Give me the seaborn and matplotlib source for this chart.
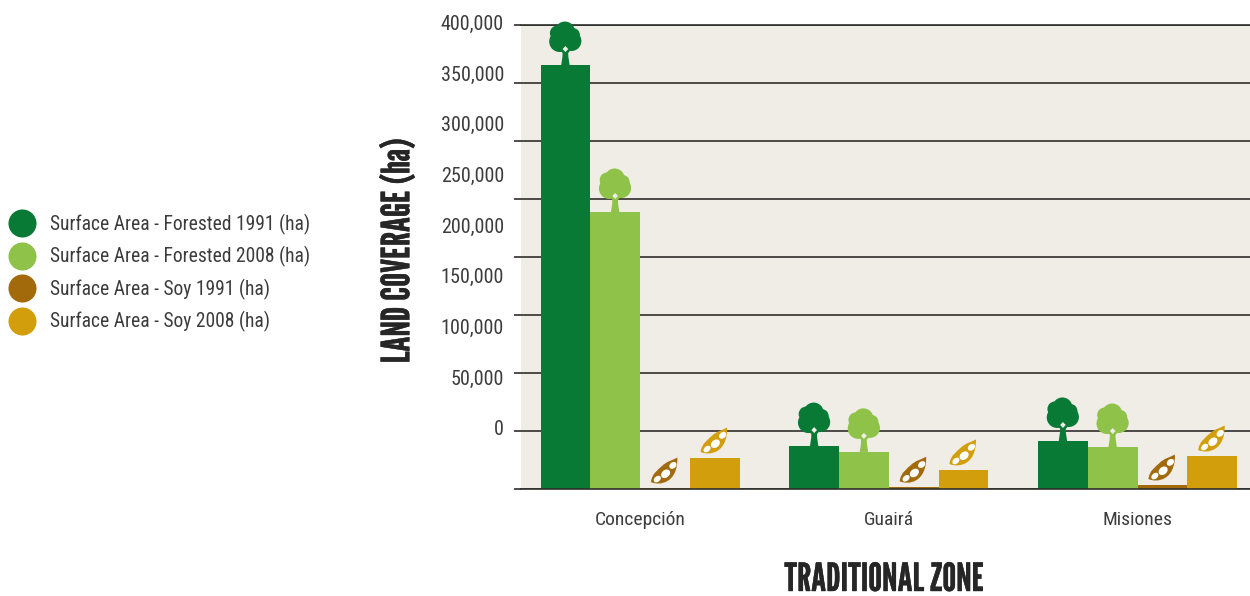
import matplotlib
matplotlib.use("Agg")
import matplotlib.pyplot as plt
import matplotlib.patheffects as pe
import matplotlib.transforms as mtrans
from matplotlib.lines import Line2D
from matplotlib.patches import Circle, Ellipse, PathPatch, Polygon
from matplotlib.path import Path
import pandas as pd
import seaborn as sns

sns.set_style("white")
plt.rcParams['font.family'] = ['Roboto Condensed', 'Roboto', 'DejaVu Sans']
title_font = ['League Gothic', 'Antonio', 'Oswald', 'Roboto Condensed', 'DejaVu Sans']

zones = ["Concepción", "Guairá", "Misiones"]
series_names = ["Surface Area - Forested 1991 (ha)", "Surface Area - Forested 2008 (ha)",
                "Surface Area - Soy 1991 (ha)", "Surface Area - Soy 2008 (ha)"]
colors = ["#087a36", "#8fc248", "#a26a0a", "#d39e0b"]
forest_1991 = [365500, 37000, 41400]
forest_2008 = [238800, 32000, 36200]
soy_1991 = [800, 1500, 3400]
soy_2008 = [26700, 16400, 28400]
y_labels = [0, 50000, 100000, 150000, 200000, 250000, 300000, 350000, 400000]

GRID = "#2f2f2c"
TEXT = "#3c3c3c"
PANEL = "#f0ede6"

df = pd.DataFrame({"zone": zones * 4,
                   "series": [s for s in series_names for _ in zones],
                   "area": forest_1991 + forest_2008 + soy_1991 + soy_2008})

fig = plt.figure(figsize=(12.5, 5.96), dpi=100)
ax = fig.add_axes([521 / 1250, 1 - 489 / 596, 729 / 1250, 464 / 596])
ax.set_facecolor(PANEL)

sns.barplot(data=df, x="zone", y="area", hue="series", hue_order=series_names,
            palette=colors, saturation=1, width=0.8, gap=0, legend=False,
            linewidth=0, ax=ax)

ax.set_xlim(-0.4785, 2.452)
ax.set_ylim(0, 400000)
ax.set_yticks(y_labels)
ax.set_axisbelow(True)
ax.grid(axis="y", color=GRID, linewidth=1.2)
ax.tick_params(axis="y", left=True, length=5, width=1.2, color=GRID, labelleft=False)
ax.tick_params(axis="x", length=0, pad=16, labelsize=14, labelcolor=TEXT)
for side in ["left", "right"]:
    ax.spines[side].set_visible(False)
for side in ["top", "bottom"]:
    ax.spines[side].set_visible(True)
    ax.spines[side].set_color(GRID)
    ax.spines[side].set_linewidth(1.2)
ax.set_xlabel("")
ax.set_ylabel("")

# the printed labels run on a tighter scale than the gridlines, so they get their own axes
label_ax = fig.add_axes([521 / 1250, 1 - 489 / 596, 729 / 1250, 479 / 596])
label_ax.patch.set_visible(False)
label_ax.xaxis.set_visible(False)
label_ax.set_yticks(y_labels, [f"{v:,}" for v in y_labels])
label_ax.set_ylim(-60641, 412445)
label_ax.tick_params(axis="y", length=0, pad=12.3, labelsize=14.5, labelcolor=TEXT)
label_ax.grid(False)
for spine in label_ax.spines.values():
    spine.set_visible(False)


def icon_transform(x, y, dy=0):
    # icon shapes are in pixels, y down, origin on the bar top
    return mtrans.Affine2D().scale(1, -1).translate(0, dy) + mtrans.ScaledTranslation(x, y, ax.transData)


def draw_tree(x, y, color):
    trans = icon_transform(x, y)
    blobs = [(-5.7, -23.5, 10.5), (6, -24, 10), (-0.5, -33.5, 10), (-8, -32, 7.5), (7.5, -30, 7),
             (0, -26, 9)]
    for bx, by, r in blobs:
        ax.add_patch(Circle((bx, by), r, fc=color, ec="none", transform=trans, zorder=3, clip_on=False))
    trunk = [(-4.2, 0), (4.2, 0), (3, -8), (2.8, -12), (7, -17), (-7, -17), (-2.8, -12), (-3, -8)]
    ax.add_patch(Polygon(trunk, fc=color, ec="none", transform=trans, zorder=3, clip_on=False))
    hole = [(0, -19), (2.8, -16), (0, -13), (-2.8, -16)]
    ax.add_patch(Polygon(hole, fc=PANEL, ec="none", transform=trans, zorder=4, clip_on=False))


def draw_pod(x, y, color):
    trans = icon_transform(x, y, dy=17)
    verts = [(-14, 11), (-5, 15), (13, 12), (12.5, -13.5), (8, -11), (2, -10), (-3, -5),
             (-6, -2), (-13, 2), (-14, 11)]
    codes = [Path.MOVETO] + [Path.CURVE4] * 9
    ax.add_patch(PathPatch(Path(verts, codes), fc=color, ec="none", transform=trans, zorder=3, clip_on=False))
    holes = [(-7.6, 8, 8, 5.5), (0.7, 2.7, 10, 7.5), (8, -5.7, 8, 6)]
    for hx, hy, w, h in holes:
        ax.add_patch(Ellipse((hx, hy), w, h, angle=-40, fc="white", ec="none", transform=trans, zorder=4, clip_on=False))


for i, container in enumerate(ax.containers):
    for bar in container:
        cx = bar.get_x() + bar.get_width() / 2
        if i < 2:
            draw_tree(cx, bar.get_height(), colors[i])
        else:
            draw_pod(cx, bar.get_height(), colors[i])

handles = [Line2D([], [], linestyle="none", marker="o", markersize=20.2, markerfacecolor=c,
                  markeredgecolor="none") for c in colors]
fig.legend(handles, series_names, loc="center left", bbox_to_anchor=(8 / 1250, 1 - 273 / 596),
           frameon=False, fontsize=14.05, labelcolor=TEXT, labelspacing=0.58, handletextpad=0.7,
           handlelength=1.45, borderpad=0, borderaxespad=0)

thick = [pe.withStroke(linewidth=0.3, foreground="#262626")]
fig.text(398 / 1250, 1 - 251 / 596, "LAND COVERAGE (ha)", rotation=90, ha="center", va="center",
         fontsize=28, color="#262626", family=title_font, path_effects=thick)
fig.text(884 / 1250, 1 - 580 / 596, "TRADITIONAL ZONE", ha="center", va="center",
         fontsize=28, color="#262626", family=title_font, path_effects=thick)

fig.savefig("out.png", dpi=100)
